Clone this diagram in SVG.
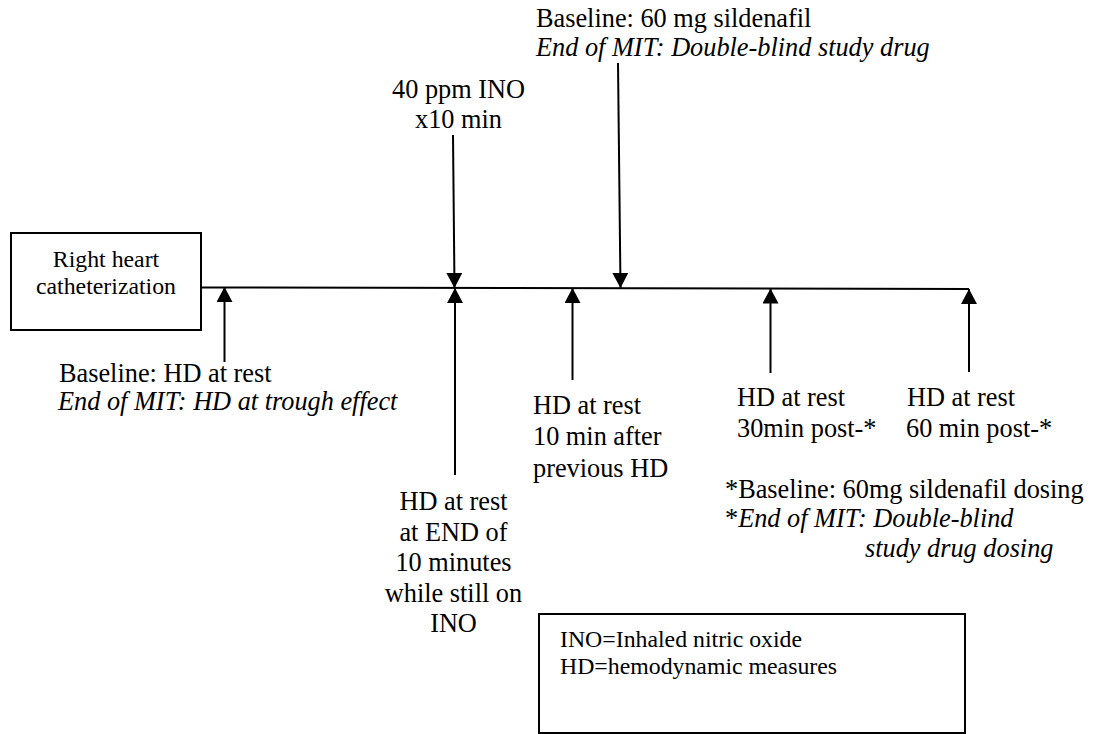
<svg xmlns="http://www.w3.org/2000/svg" width="1095" height="734" viewBox="0 0 1095 734">
<style>
text{font-family:"Liberation Serif","Times New Roman",serif;fill:#000}
.t{font-size:26.3px}
.s{font-size:23.8px}
.i{font-style:italic}
.box{fill:#fff;stroke:#000;stroke-width:2}
.ln{fill:none;stroke:#000;stroke-width:2}
.ar{fill:none;stroke:#000;stroke-width:2;marker-end:url(#ah)}
</style>
<defs>
<marker id="ah" viewBox="0 0 15 16" refX="15" refY="8" markerWidth="15" markerHeight="16" markerUnits="userSpaceOnUse" orient="auto">
<path d="M0,0 L15,8 L0,16 z" fill="#000"/>
</marker>
</defs>
<g id="connectors">
<line class="ln" x1="201" y1="287.5" x2="969" y2="289"/>
<line class="ar" x1="224.5" y1="362" x2="224.5" y2="287"/>
<line class="ar" x1="453" y1="135" x2="454.5" y2="288"/>
<line class="ar" x1="455" y1="475" x2="455" y2="288"/>
<line class="ar" x1="572.5" y1="380" x2="572.5" y2="288"/>
<line class="ar" x1="618" y1="63" x2="620.5" y2="288"/>
<line class="ar" x1="770.5" y1="373" x2="770.5" y2="288.5"/>
<line class="ar" x1="969" y1="372" x2="969" y2="289"/>
</g>
<g id="rhc">
<rect class="box" x="11" y="233" width="190" height="97"/>
<text class="s" x="106" y="267" text-anchor="middle">Right heart</text>
<text class="s" x="106" y="294" text-anchor="middle">catheterization</text>
</g>
<g id="baseline-hd">
<text class="t" x="59" y="381.5">Baseline: HD at rest</text>
<text class="t i" x="58" y="410">End of MIT: HD at trough effect</text>
</g>
<g id="ino">
<text class="t" x="458.5" y="98" text-anchor="middle">40 ppm INO</text>
<text class="t" x="458.5" y="128" text-anchor="middle">x10 min</text>
</g>
<g id="sildenafil">
<text class="t" x="536" y="27">Baseline: 60 mg sildenafil</text>
<text class="t i" x="536" y="56">End of MIT: Double-blind study drug</text>
</g>
<g id="hd-end-ino">
<text class="t" x="453.5" y="510" text-anchor="middle">HD at rest</text>
<text class="t" x="453.5" y="540.5" text-anchor="middle">at END of</text>
<text class="t" x="453.5" y="571" text-anchor="middle">10 minutes</text>
<text class="t" x="453.5" y="601.5" text-anchor="middle">while still on</text>
<text class="t" x="453.5" y="632" text-anchor="middle">INO</text>
</g>
<g id="hd-10min">
<text class="t" x="533" y="413.5">HD at rest</text>
<text class="t" x="533" y="445">10 min after</text>
<text class="t" x="533" y="476.5">previous HD</text>
</g>
<g id="hd-30min">
<text class="t" x="737" y="406">HD at rest</text>
<text class="t" x="737" y="436.5">30min post-*</text>
</g>
<g id="hd-60min">
<text class="t" x="907" y="406">HD at rest</text>
<text class="t" x="906" y="436.5">60 min post-*</text>
</g>
<g id="footnote">
<text class="t" x="725" y="498">*Baseline: 60mg sildenafil dosing</text>
<text class="t" x="725" y="527">*<tspan class="i">End of MIT: Double-blind</tspan></text>
<text class="t i" x="865" y="557">study drug dosing</text>
</g>
<g id="legend">
<rect class="box" x="539" y="614" width="426" height="119"/>
<text class="s" x="560" y="647">INO=Inhaled nitric oxide</text>
<text class="s" x="560" y="674">HD=hemodynamic measures</text>
</g>
</svg>
